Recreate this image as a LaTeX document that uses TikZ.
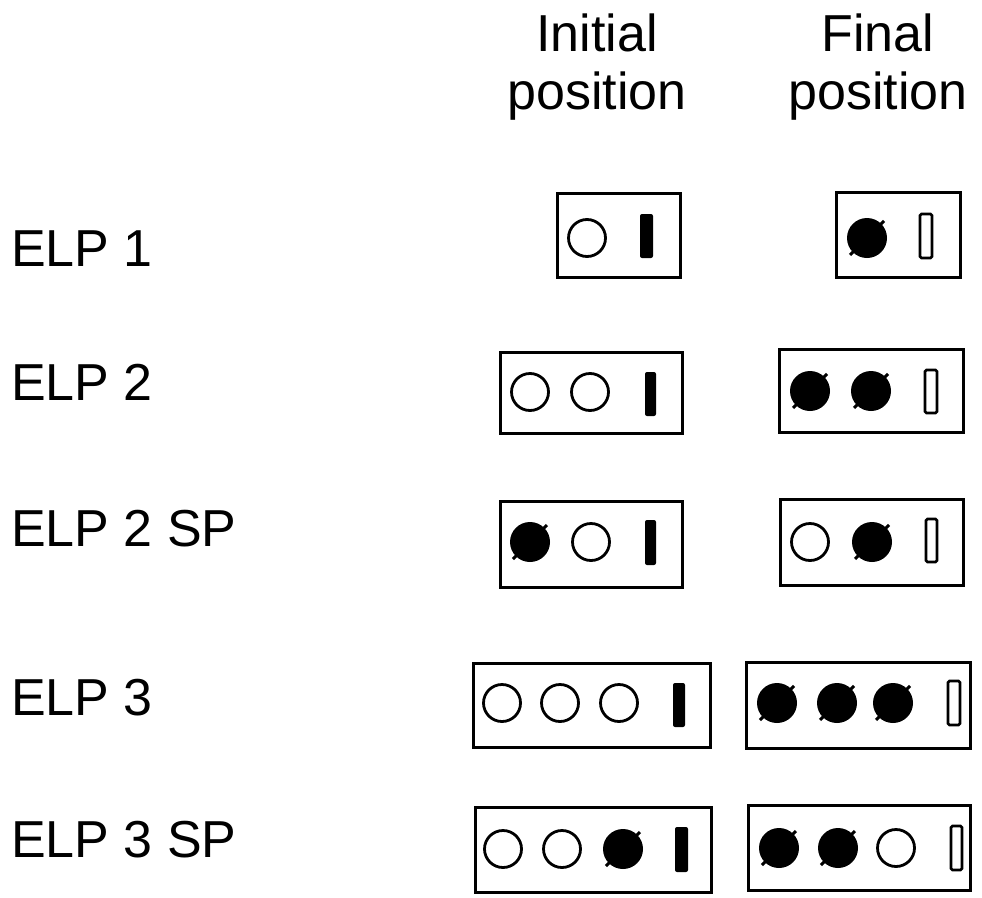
\documentclass[tikz,border=0pt]{standalone}
\usepackage{fontspec}
\setmainfont{Liberation Sans}
\newcommand\openbead[2]{\draw[beadline] (#1,#2) circle (18.5pt);}
\newcommand\fullbead[2]{\fill (#1,#2) circle (20pt);
  \draw[line width=3pt] ($(#1,#2)+(-17,17)$) -- ($(#1,#2)+(17,-17)$);}
\newcommand\solidbar[4]{\fill[rounded corners=2pt] (#1,#3) rectangle (#2,#4);}
\newcommand\hollowbar[4]{\draw[line width=2.6pt,rounded corners=1.5pt] (#1,#3) rectangle (#2,#4);}
\usetikzlibrary{calc}
\begin{document}
\begin{tikzpicture}[x=1pt,y=-1pt,
  lbl/.style={inner sep=0pt,font=\fontsize{52}{60}\selectfont},
  framebox/.style={draw,line width=3pt},
  beadline/.style={line width=2.8pt}]
\fill[white] (0,0) rectangle (982,897);
\useasboundingbox (0,0) rectangle (982,897);
% headers
\node[lbl,anchor=base] (hi1) at (597,51) {Initial};
\node[lbl,anchor=base] (hi2) at (597,109) {position};
\node[lbl,anchor=base] (hf1) at (878,51) {Final};
\node[lbl,anchor=base] (hf2) at (878,109) {position};
% row labels
\node[lbl,anchor=base west] (l1) at (11,266) {ELP 1};
\node[lbl,anchor=base west] (l2) at (11,400) {ELP 2};
\node[lbl,anchor=base west] (l3) at (11,546) {ELP 2 SP};
\node[lbl,anchor=base west] (l4) at (11,715) {ELP 3};
\node[lbl,anchor=base west] (l5) at (11,857) {ELP 3 SP};
% ELP 1
\draw[framebox] (557,193) rectangle (680,277);
\openbead{587}{238}
\solidbar{640}{653}{214}{258}
\draw[framebox] (836,192) rectangle (960,277);
\fullbead{867}{238}
\hollowbar{920}{932}{214}{258}
% ELP 2
\draw[framebox] (500,352) rectangle (682,433);
\openbead{530}{392}\openbead{590}{392}
\solidbar{645}{656}{372}{416}
\draw[framebox] (779,349) rectangle (963,432);
\fullbead{810}{391}\fullbead{871}{391}
\hollowbar{925}{937}{370}{413}
% ELP 2 SP
\draw[framebox] (500,501) rectangle (682,587);
\fullbead{530}{542}\openbead{591}{542}
\solidbar{645}{656}{520}{565}
\draw[framebox] (780,499) rectangle (963,585);
\openbead{810}{542}\fullbead{872}{542}
\hollowbar{926}{937}{519}{562}
% ELP 3
\draw[framebox] (473,663) rectangle (710,747);
\openbead{502}{703}\openbead{560}{703}\openbead{619}{703}
\solidbar{673}{685}{683}{727}
\draw[framebox] (746,662) rectangle (970,748);
\fullbead{777}{703}\fullbead{837}{703}\fullbead{893}{703}
\hollowbar{948}{960}{681}{725}
% ELP 3 SP
\draw[framebox] (475,807) rectangle (711,892);
\openbead{503}{849}\openbead{562}{849}\fullbead{623}{849}
\solidbar{675}{688}{827}{872}
\draw[framebox] (748,805) rectangle (970,890);
\fullbead{779}{848}\fullbead{838}{848}\openbead{896}{848}
\hollowbar{951}{962}{826}{870}
\end{tikzpicture}
\end{document}
